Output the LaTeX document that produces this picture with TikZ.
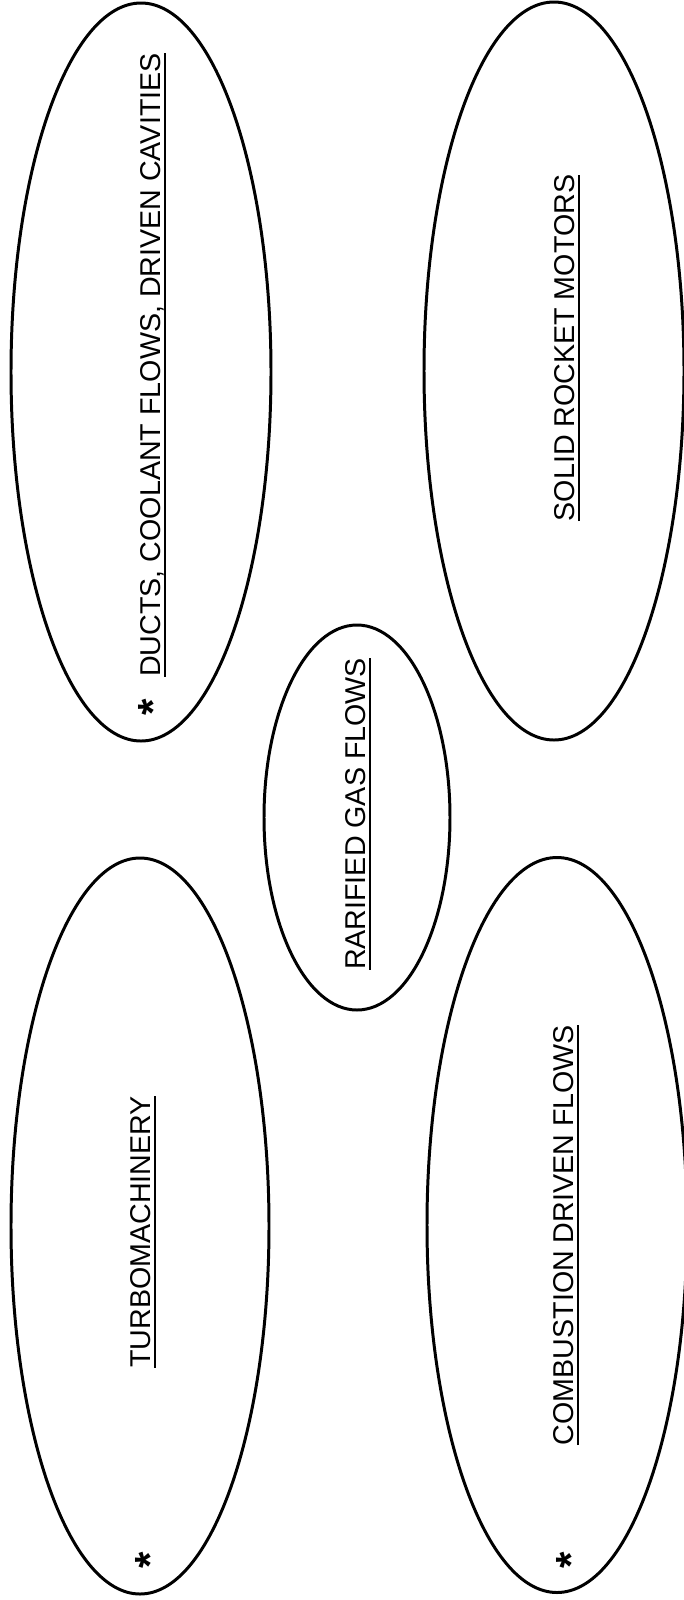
\documentclass[tikz,border=0pt]{standalone}
\usepackage{fontspec}
\setmainfont{Liberation Sans}
\usetikzlibrary{shapes.geometric}

% underline sitting a little below the baseline
\newcommand{\undertext}[1]{\setbox0\hbox{#1}\rlap{\rule[-3.4pt]{\wd0}{1.1pt}}\box0}

\begin{document}
\begin{tikzpicture}[
    oval/.style={draw, ellipse, line width=1.7pt, inner sep=0pt, minimum width=5.2cm, minimum height=14.76cm},
    small/.style={oval, minimum width=3.72cm, minimum height=7.7cm},
    topic/.style={rotate=90, anchor=base, font=\fontsize{16.3}{20}\selectfont},
    starmark/.style={rotate=90, inner sep=0pt, font=\fontsize{24}{24}\selectfont\bfseries}
]
\useasboundingbox (0, 0) rectangle (13.68, -32);

% Upper row
\node[oval] (ducts) at (2.82, -7.44) {};
\node[oval] (solid) at (11.08, -7.42) {};
\node[topic] (ductstext) at (3.20, -7.30) {\undertext{DUCTS, COOLANT FLOWS, DRIVEN CAVITIES}};
\node[starmark] (ductsstar) at (3.06, -14.14) {*};
\node[topic] (solidtext) at (11.48, -6.96) {\undertext{SOLID ROCKET MOTORS}};

% Middle
\node[small] (rarified) at (7.14, -16.35) {};
\node[topic] (rarifiedtext) at (7.30, -16.28) {\undertext{RARIFIED GAS FLOWS}};

% Lower row
\node[oval, minimum width=5.16cm, minimum height=14.72cm] (turbo) at (2.80, -24.52) {};
\node[oval, minimum height=14.7cm] (combustion) at (11.14, -24.50) {};
\node[topic] (turbotext) at (3.00, -24.64) {\undertext{TURBOMACHINERY}};
\node[starmark] (turbostar) at (3.00, -31.20) {*};
\node[topic] (combustiontext) at (11.46, -24.70) {\undertext{COMBUSTION DRIVEN FLOWS}};
\node[starmark] (combustionstar) at (11.42, -31.20) {*};
\end{tikzpicture}
\end{document}
